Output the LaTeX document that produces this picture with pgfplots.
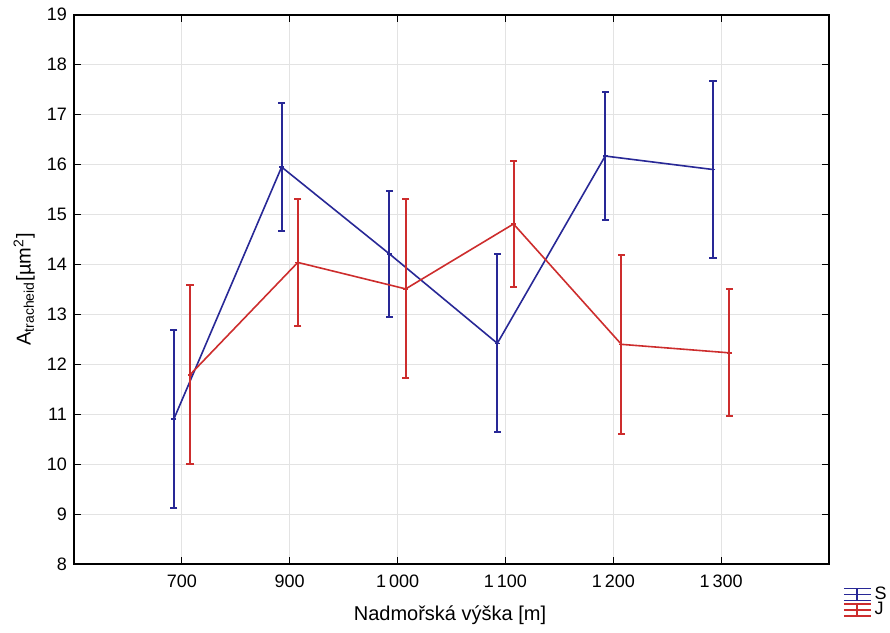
\documentclass[border=0pt]{standalone}
\usepackage{fontspec}
\setmainfont{Liberation Sans}
\usepackage{pgfplots}
\usepackage{pgfplotstable}
\pgfplotsset{compat=1.18}

\definecolor{scol}{RGB}{40,40,150}
\definecolor{jcol}{RGB}{205,45,45}

% means: altitude index (shifted per group), mean
\pgfplotstableread{
x      y
-0.075 10.90
0.925  15.95
1.925  14.21
2.925  12.42
3.925  16.17
4.925  15.90
}\meanS
\pgfplotstableread{
x      y
0.075  11.79
1.075  14.04
2.075  13.51
3.075  14.81
4.075  12.40
5.075  12.23
}\meanJ

% whisker ends (lower, upper), one bar per pair, nan breaks the line
\pgfplotstableread{
x      y
-0.075 9.12
-0.075 12.68
nan    nan
0.925  14.67
0.925  17.23
nan    nan
1.925  12.95
1.925  15.47
nan    nan
2.925  10.64
2.925  14.20
nan    nan
3.925  14.89
3.925  17.45
nan    nan
4.925  14.12
4.925  17.68
}\barS
\pgfplotstableread{
x      y
0.075  10.00
0.075  13.58
nan    nan
1.075  12.77
1.075  15.31
nan    nan
2.075  11.72
2.075  15.30
nan    nan
3.075  13.54
3.075  16.08
nan    nan
4.075  10.61
4.075  14.19
nan    nan
5.075  10.96
5.075  13.50
}\barJ

% legend glyph: an error bar with caps and a line through the mean
\newcommand{\errglyph}[1]{%
  \draw[#1,line width=0.8pt] (6.75pt,-3pt) -- (6.75pt,3pt);
  \draw[#1,line width=0.8pt] (0pt,3pt) -- (13.5pt,3pt);
  \draw[#1,line width=0.8pt] (0pt,0pt) -- (13.5pt,0pt);
  \draw[#1,line width=0.8pt] (0pt,-3pt) -- (13.5pt,-3pt);
}

\pgfplotsset{
  whisker/.style={draw=#1, line width=1pt, forget plot,
    unbounded coords=jump,
    mark=-, mark size=1.8pt, mark options={draw=#1, line width=1pt}},
}

\begin{document}
\begin{tikzpicture}
\begin{axis}[
  scale only axis,
  width=377.5pt, height=274.7pt,
  xmin=-1, xmax=6,
  ymin=8, ymax=19,
  xtick={0,1,2,3,4,5},
  xticklabels={700,900,1\,000,1\,100,1\,200,1\,300},
  ytick={8,9,...,19},
  grid=major,
  major grid style={gray!22, line width=0.5pt},
  axis line style={line width=0.9pt},
  tick style={black, line width=0.6pt},
  major tick length=3.5pt,
  tick label style={font=\fontsize{9}{10}\selectfont},
  /pgf/number format/assume math mode=true,
  xticklabel style={yshift=-2pt},
  label style={font=\fontsize{10}{12}\selectfont},
  xlabel={Nadmořská výška [m]},
  xlabel style={at={(axis description cs:0.498,-0.093)}, anchor=center},
  ylabel={A\textsubscript{tracheid}[µm\textsuperscript{2}]},
  ylabel style={at={(axis description cs:-0.066,0.5)}, anchor=center},
  legend style={at={(axis description cs:1.018,-0.035)}, anchor=north west,
    draw=none, fill=none, inner sep=0pt, row sep=-3pt,
    font=\fontsize{9}{10}\selectfont,
    nodes={inner sep=1.5pt}},
  legend cell align=left,
]
% S
\addplot[whisker=scol] table[x=x, y=y] {\barS};
\addplot[draw=scol, line width=0.8pt, mark=-, mark size=1.2pt,
  mark options={draw=scol},
  legend image code/.code={\errglyph{scol}}]
  table[x=x, y=y] {\meanS};
\addlegendentry{S}
% J
\addplot[whisker=jcol] table[x=x, y=y] {\barJ};
\addplot[draw=jcol, line width=0.8pt, mark=-, mark size=1.2pt,
  mark options={draw=jcol},
  legend image code/.code={\errglyph{jcol}}]
  table[x=x, y=y] {\meanJ};
\addlegendentry{J}
\end{axis}
\pgfresetboundingbox
\path (-37pt,-34pt) rectangle (408pt,282.05pt);
\end{tikzpicture}
\end{document}
